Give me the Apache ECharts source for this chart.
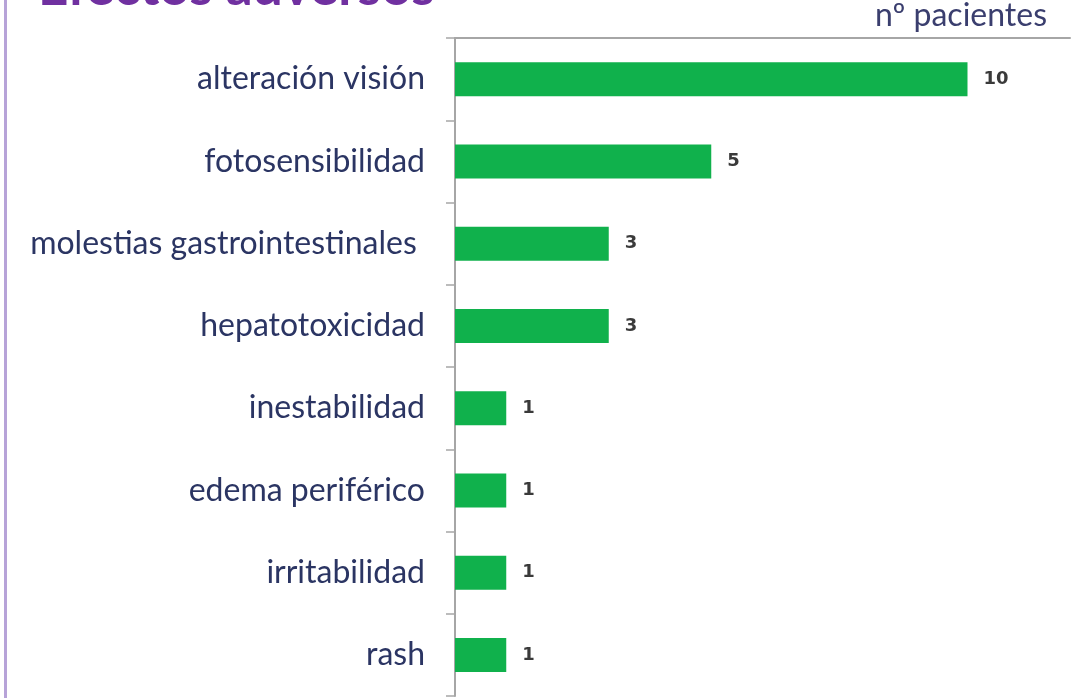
<!DOCTYPE html>
<html><head><meta charset="utf-8">
<script src="https://cdn.jsdelivr.net/npm/echarts@6/dist/echarts.min.js"></script>
<style>html,body{margin:0;padding:0;background:#fff}#c{width:1082px;height:698px}</style>
</head><body><div id="c"></div>
<script>
const categories = ["alteración visión","fotosensibilidad","molestias gastrointestinales ","hepatotoxicidad","inestabilidad","edema periférico","irritabilidad","rash"];
const values = [10,5,3,3,1,1,1,1];
const titleText = "Efectos adversos";
const axisName = "nº pacientes";

const chart = echarts.init(document.getElementById('c'));
chart.setOption({
  animation:false,
  backgroundColor:'#ffffff',
  title:{text:axisName,right:30,top:-5,textStyle:{fontFamily:'Lato',fontWeight:'normal',fontSize:32,color:'#3a3e6e'}},
  graphic:[
    {type:'rect',shape:{x:4,y:0,width:3,height:698},style:{fill:'#b7a3d8'}},
    {type:'text',x:38,y:14,style:{text:titleText,font:'bold 53px Lato',fill:'#7030a0',verticalAlign:'bottom'}}
  ],
  grid:{left:455,right:12,top:38,bottom:2,containLabel:false},
  xAxis:{type:'value',position:'top',min:0,max:12,
    axisLine:{show:true,lineStyle:{color:'#a6a6a6',width:2}},
    axisTick:{show:false},axisLabel:{show:false},splitLine:{show:false}},
  yAxis:{type:'category',inverse:true,data:categories,
    axisLine:{show:true,lineStyle:{color:'#a6a6a6',width:2}},
    axisTick:{show:true,length:9,lineStyle:{color:'#a6a6a6',width:1.5}},
    axisLabel:{margin:30,fontFamily:'Lato',fontSize:32,color:'#2b3563'}},
  series:[{type:'bar',data:values,barWidth:34,
    itemStyle:{color:'#10b14c'},
    label:{show:true,position:'right',distance:16,fontFamily:'DejaVu Sans',fontWeight:'bold',fontSize:18,color:'#3a3a3a'}}]
});
</script></body></html>
